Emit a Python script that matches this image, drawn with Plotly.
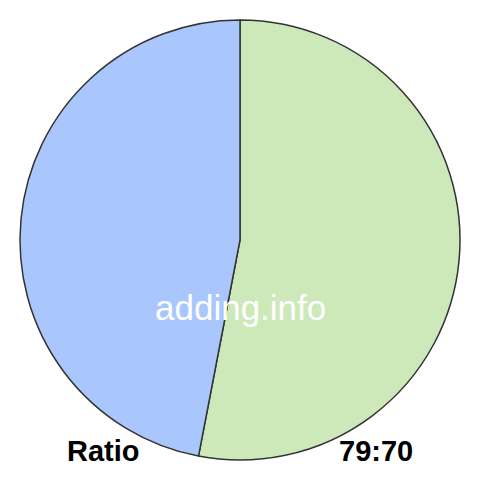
import plotly.graph_objects as go

labels = ["A", "B"]
values = [79, 70]
colors = ["#cde8b9", "#a9c7fd"]
watermark = "adding.info"
left_text = "Ratio"
right_text = "79:70"

fig = go.Figure(go.Pie(
    labels=labels, values=values, sort=False, direction="clockwise", rotation=0,
    marker=dict(colors=colors, line=dict(color="#333333", width=1.5)),
    textinfo="none", hoverinfo="none", showlegend=False,
    domain=dict(x=[20/480, 460/480], y=[20/480, 460/480]),
))
fig.update_layout(
    width=480, height=480, margin=dict(l=0, r=0, t=0, b=0),
    paper_bgcolor="white", plot_bgcolor="white",
    annotations=[
        dict(text=watermark, x=240/480, y=1-307/480, xref="paper", yref="paper",
             showarrow=False, font=dict(family="Arial, Liberation Sans", size=35, color="white"),
             xanchor="center", yanchor="middle"),
        dict(text="<b>" + left_text + "</b>", x=103/480, y=1-451/480, xref="paper", yref="paper",
             showarrow=False, font=dict(family="Arial, Liberation Sans", size=29, color="black"),
             xanchor="center", yanchor="middle"),
        dict(text="<b>" + right_text + "</b>", x=376/480, y=1-451/480, xref="paper", yref="paper",
             showarrow=False, font=dict(family="Arial, Liberation Sans", size=29, color="black"),
             xanchor="center", yanchor="middle"),
    ],
)
fig.write_html("out.html", config={"displayModeBar": False},
               post_script="document.body.style.margin='0';")
